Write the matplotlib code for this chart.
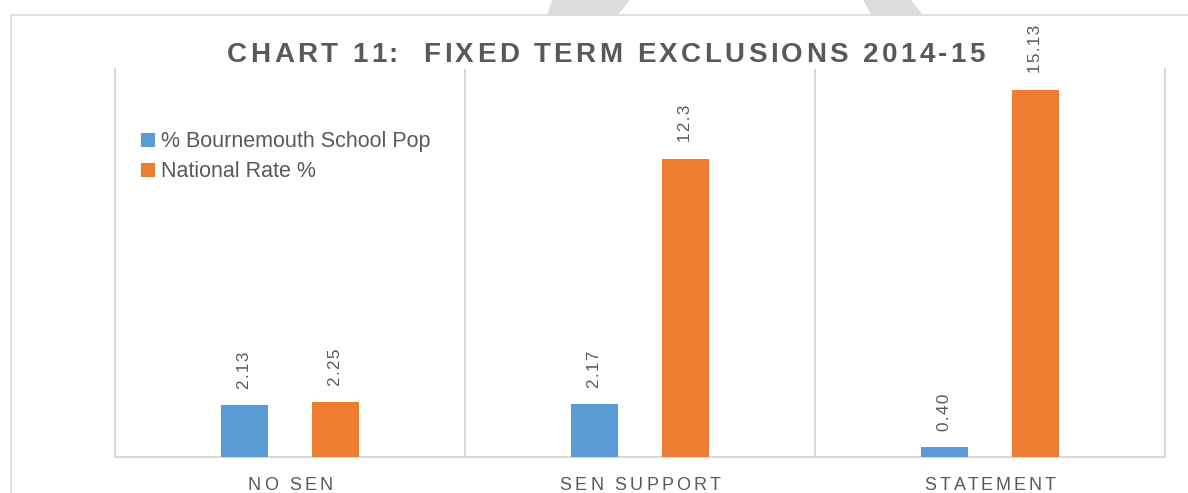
import matplotlib
matplotlib.use('Agg')
from matplotlib import pyplot as plt
from matplotlib.font_manager import FontProperties
from matplotlib.patches import Polygon, Rectangle
import numpy as np

categories = ['NO SEN', 'SEN SUPPORT', 'STATEMENT']
bournemouth = [2.13, 2.17, 0.40]
national = [2.25, 12.3, 15.13]
bournemouth_labels = ['2.13', '2.17', '0.40']
national_labels = ['2.25', '12.3', '15.13']
series_names = ['% Bournemouth School Pop', 'National Rate %']
title = 'CHART 11:  FIXED TERM EXCLUSIONS 2014-15'

BLUE = '#5B9BD5'
ORANGE = '#ED7D31'
TEXT = '#595959'
LINE = '#D9D9D9'

plt.rcParams['font.family'] = ['Liberation Sans', 'DejaVu Sans']

W, H = 1188, 493
fig = plt.figure(figsize=(W / 100, H / 100), dpi=100)


def tracked_text(s, cx, base, prop, track=None, width=None, **kw):
    """Draw s char by char centred on cx (pixels) with extra letter spacing."""
    r = fig.canvas.get_renderer()
    meas = lambda t: r.get_text_width_height_descent(t, prop, ismath=False)[0]
    ref = meas('X')
    starts = [meas(s[:i] + 'X') - ref for i in range(len(s))]
    natural = meas(s)
    if track is None:
        track = (width - natural) / (len(s) - 1)
    x0 = cx - (natural + track * (len(s) - 1)) / 2
    for i, ch in enumerate(s):
        if ch != ' ':
            fig.text((x0 + starts[i] + i * track) / W, base / H, ch,
                     fontproperties=prop, ha='left', va='baseline', **kw)


# faint watermark strokes above the chart frame
for pts in ([(553, 0), (629, 0), (617, 15), (548, 15)],
            [(864, 0), (910, 0), (922, 15), (872, 15)]):
    fig.patches.append(Polygon([(x / W, 1 - y / H) for x, y in pts],
                               closed=True, transform=fig.transFigure,
                               color='#DCDCDC', zorder=0))
# chart frame
fig.patches.append(Rectangle((11 / W, -0.1), 1.2, 1 + 0.1 - 15 / H,
                             transform=fig.transFigure, fill=False,
                             edgecolor=LINE, linewidth=1.2, zorder=1))

ax = fig.add_axes([115 / W, 36 / H, 1050 / W, 388 / H])
x = np.arange(len(categories))
w = 0.137
off = 0.13
b1 = ax.bar(x - off, bournemouth, w, color=BLUE, label=series_names[0], zorder=3)
b2 = ax.bar(x + off, national, w, color=ORANGE, label=series_names[1], zorder=3)

for bars, labels in ((b1, bournemouth_labels), (b2, national_labels)):
    for rect, lab in zip(bars, labels):
        ax.annotate('\u200a'.join(lab),
                    (rect.get_x() + rect.get_width() / 2, rect.get_height()),
                    xytext=(0, 12), textcoords='offset points', rotation=90,
                    ha='center', va='bottom', fontsize=12.3, color=TEXT)

ax.set_xlim(-0.5, len(categories) - 0.5)
ax.set_ylim(0, 16)
ax.set_yticks([])
ax.set_xticks([])
for s in ('left', 'right', 'bottom'):
    ax.spines[s].set_color(LINE)
    ax.spines[s].set_linewidth(1.5)
ax.spines['top'].set_visible(False)
for sep in x[:-1] + 0.5:
    ax.axvline(sep, color=LINE, linewidth=1.5, zorder=1)

leg = ax.legend(loc='upper left', bbox_to_anchor=(0.017, 0.862), frameon=False,
                fontsize=15.5, handlelength=0.62, handleheight=0.62,
                handletextpad=0.3, labelspacing=0.42, borderaxespad=0)
for t in leg.get_texts():
    t.set_color(TEXT)

# category labels, letter spaced
cat_prop = FontProperties(family=['Liberation Sans', 'DejaVu Sans'], size=13)
for xi, cat in zip(x, categories):
    cx = ax.transData.transform((xi, 0))[0]
    tracked_text(cat, cx, 3, cat_prop, track=3.2, color=TEXT)

# title, letter spaced
title_prop = FontProperties(family=['Liberation Sans', 'DejaVu Sans'],
                            size=20, weight='bold')
tracked_text(title, 606, H - 62, title_prop, width=758, color=TEXT)

fig.savefig('out.png', dpi=100)
